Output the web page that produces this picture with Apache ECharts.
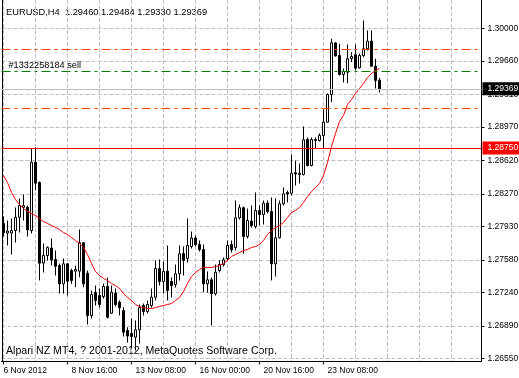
<!DOCTYPE html>
<html><head><meta charset="utf-8">
<script src="https://cdn.jsdelivr.net/npm/echarts@6/dist/echarts.min.js"></script>
<style>html,body{margin:0;padding:0;background:#fff}#c{width:519px;height:378px}</style>
</head><body><div id="c"></div>
<script>
const symbolName = 'EURUSD';
const periodName = 'H4';
const openP = [1.27962,1.27862,1.27862,1.27888,1.28027,1.28129,1.28132,1.27888,1.28602,1.28390,
1.27547,1.27627,1.27705,1.27585,1.27522,1.27331,1.27540,1.27470,1.27463,1.27463,
1.27760,1.27442,1.27000,1.27240,1.27209,1.27198,1.27303,1.27024,1.27233,1.27139,
1.27052,1.26843,1.26812,1.26773,1.26850,1.27104,1.27042,1.27104,1.27191,1.27491,
1.27355,1.27463,1.27355,1.27324,1.27436,1.27648,1.27596,1.27721,1.27810,1.27742,
1.27690,1.27331,1.27373,1.27227,1.27470,1.27530,1.27593,1.27742,1.27711,1.28021,
1.28126,1.27826,1.27986,1.27930,1.28097,1.28056,1.28174,1.28087,1.27540,1.27812,
1.28168,1.28286,1.28278,1.28492,1.28474,1.28474,1.28840,1.28568,1.28829,1.28829,
1.28882,1.29021,1.29310,1.29849,1.29718,1.29519,1.29543,1.29684,1.29725,1.29589,
1.29718,1.29788,1.29868,1.29606,1.29460];
const highP = [1.28035,1.27993,1.28014,1.28129,1.28223,1.28265,1.28150,1.28746,1.28756,1.28401,
1.27752,1.27721,1.27805,1.27679,1.27543,1.27596,1.27547,1.27488,1.27522,1.27899,
1.27766,1.27470,1.27261,1.27313,1.27282,1.27334,1.27397,1.27313,1.27282,1.27157,
1.27087,1.26877,1.26968,1.26947,1.27115,1.27125,1.27157,1.27282,1.27575,1.27585,
1.27564,1.27732,1.27397,1.27533,1.27732,1.27721,1.28014,1.27878,1.27836,1.27784,
1.27742,1.27460,1.27397,1.27533,1.27575,1.27606,1.27784,1.27784,1.28202,1.28160,
1.28139,1.28118,1.28150,1.28286,1.28150,1.28202,1.28202,1.28233,1.28223,1.28202,
1.28338,1.28307,1.28683,1.28620,1.28589,1.28976,1.28861,1.28861,1.28861,1.28903,
1.29153,1.29321,1.29893,1.29857,1.29840,1.29582,1.29833,1.29753,1.29833,1.29739,
1.30084,1.29979,1.29979,1.29684,1.29484];
const lowP = [1.27826,1.27732,1.27637,1.27763,1.27867,1.27993,1.27826,1.27857,1.28307,1.27366,
1.27449,1.27575,1.27522,1.27418,1.27230,1.27230,1.27209,1.27331,1.27296,1.27400,
1.27296,1.26906,1.26968,1.27104,1.27083,1.27177,1.26968,1.27017,1.27094,1.27000,
1.26780,1.26717,1.26655,1.26634,1.26707,1.27000,1.27021,1.27083,1.27157,1.27313,
1.27230,1.27157,1.27188,1.27292,1.27366,1.27418,1.27554,1.27700,1.27721,1.27669,
1.27243,1.27240,1.26895,1.27209,1.27449,1.27512,1.27575,1.27658,1.27679,1.28003,
1.27648,1.27805,1.27920,1.27909,1.27941,1.27951,1.28066,1.27366,1.27407,1.27805,
1.28150,1.28181,1.28254,1.28359,1.28380,1.28463,1.28558,1.28558,1.28746,1.28819,
1.28746,1.29018,1.29230,1.29708,1.29509,1.29436,1.29428,1.29648,1.29561,1.29582,
1.29700,1.29770,1.29603,1.29373,1.29330];
const closeP = [1.27867,1.27883,1.27888,1.28027,1.28150,1.28150,1.27896,1.28602,1.28383,1.27547,
1.27627,1.27711,1.27582,1.27515,1.27331,1.27540,1.27358,1.27366,1.27481,1.27760,
1.27331,1.27000,1.27219,1.27157,1.27115,1.27303,1.26982,1.27243,1.27115,1.27080,
1.26825,1.26785,1.26780,1.26850,1.27083,1.27042,1.27115,1.27191,1.27491,1.27355,
1.27460,1.27261,1.27313,1.27436,1.27645,1.27575,1.27732,1.27810,1.27742,1.27690,
1.27331,1.27373,1.27227,1.27452,1.27533,1.27582,1.27732,1.27687,1.28021,1.28126,
1.27826,1.27993,1.27941,1.28097,1.28056,1.28174,1.28087,1.27540,1.27812,1.28168,
1.28272,1.28270,1.28487,1.28479,1.28487,1.28837,1.28568,1.28840,1.28840,1.28882,
1.29021,1.29310,1.29851,1.29713,1.29519,1.29551,1.29684,1.29708,1.29585,1.29718,
1.29788,1.29868,1.29606,1.29457,1.29369];
const maP = [1.28463,1.28390,1.28286,1.28212,1.28160,1.28118,1.28087,1.28066,1.28045,1.28014,
1.27982,1.27962,1.27941,1.27920,1.27899,1.27867,1.27847,1.27815,1.27784,1.27752,
1.27711,1.27637,1.27543,1.27460,1.27418,1.27387,1.27366,1.27334,1.27313,1.27282,
1.27230,1.27188,1.27157,1.27115,1.27094,1.27083,1.27073,1.27073,1.27083,1.27094,
1.27104,1.27115,1.27125,1.27157,1.27188,1.27251,1.27334,1.27407,1.27449,1.27481,
1.27502,1.27502,1.27502,1.27512,1.27522,1.27543,1.27575,1.27617,1.27637,1.27658,
1.27679,1.27690,1.27711,1.27721,1.27742,1.27784,1.27847,1.27888,1.27920,1.27941,
1.27972,1.28024,1.28077,1.28097,1.28129,1.28181,1.28244,1.28296,1.28338,1.28380,
1.28463,1.28599,1.28767,1.28903,1.29028,1.29091,1.29206,1.29258,1.29321,1.29373,
1.29425,1.29488,1.29530,1.29561,1.29582];
const xTickLabels = ['6 Nov 2012','8 Nov 16:00','13 Nov 08:00','16 Nov 00:00','20 Nov 16:00','23 Nov 08:00'];
const priceTicks = [1.26550,1.26890,1.27240,1.27580,1.27930,1.28270,1.28620,1.28970,1.29310,1.29660,1.30000];
const bidPrice = 1.29369;
const alertLevel = 1.28750;
const orderPrice = 1.29551;
const stopLoss = 1.29781;
const takeProfit = 1.29164;
const orderLabel = '#1332258184 sell';
const footerText = 'Alpari NZ MT4, ? 2001-2012, MetaQuotes Software Corp.';
const totalSlots = 120;
const labelEvery = 16;
const gridEvery = 8;

const months = ['Jan','Feb','Mar','Apr','May','Jun','Jul','Aug','Sep','Oct','Nov','Dec'];
const categories = [];
for (let t = Date.UTC(2012, 10, 6); categories.length < totalSlots; t += 4 * 3600000) {
  const d = new Date(t);
  const wd = d.getUTCDay();
  if (wd === 0 || wd === 6) continue;
  categories.push(d.getUTCDate() + ' ' + months[d.getUTCMonth()] + ' ' + String(d.getUTCHours()).padStart(2, '0') + ':00');
}
const candleData = openP.map((o, i) => [o, closeP[i], lowP[i], highP[i]]);
const last = openP.length - 1;
const titleText = symbolName + ',' + periodName + '  ' +
  [openP[last], highP[last], lowP[last], closeP[last]].map(v => v.toFixed(5)).join(' ');

const FONT = 'Liberation Sans';
const dashDot = [9, 4, 3, 4];
const gridDash = [4, 2];
const showLabelAt = (i) => i % labelEvery === 0 && i / labelEvery < xTickLabels.length;

const chart = echarts.init(document.getElementById('c'), null, {renderer: 'canvas'});
chart.setOption({
  animation: false,
  backgroundColor: '#ffffff',
  grid: {left: 1.5, right: 37.5, top: 0, bottom: 16.5, containLabel: false, outerBoundsMode: 'none'},
  xAxis: {
    type: 'category', data: categories, boundaryGap: true,
    axisLine: {show: true, lineStyle: {color: '#000', width: 1}},
    axisTick: {show: true, alignWithLabel: true, length: 3, interval: showLabelAt, lineStyle: {color: '#000'}},
    axisLabel: {
      show: true, interval: showLabelAt, align: 'left', verticalAlign: 'middle', margin: 9.5,
      color: '#000', fontFamily: FONT, fontSize: 8.5,
      formatter: (v, i) => (i === 0 ? '{f|' : '{n|') + xTickLabels[i / labelEvery] + '}',
      rich: {
        f: {fontFamily: FONT, fontSize: 8.5, color: '#000'},
        n: {fontFamily: FONT, fontSize: 8.5, color: '#000', padding: [0, 0, 0, 4]}
      }
    },
    splitLine: {show: true, interval: (i) => i % gridEvery === 0, alignWithLabel: true,
      lineStyle: {color: '#c0c0c0', type: gridDash, width: 1}}
  },
  yAxis: [{
    type: 'value', position: 'right', min: 1.26519, max: 1.30298,
    axisLine: {show: true, lineStyle: {color: '#000', width: 1}},
    axisTick: {show: true, length: 3, customValues: priceTicks, lineStyle: {color: '#000'}},
    axisLabel: {show: true, customValues: priceTicks, formatter: v => v.toFixed(5), margin: 6,
      color: '#000', fontFamily: FONT, fontSize: 8.5},
    splitLine: {show: true, lineStyle: {color: '#c0c0c0', type: gridDash, width: 1}}
  }, {
    type: 'value', position: 'left', offset: -1, min: 0, max: 1,
    axisLine: {show: true, lineStyle: {color: '#000', width: 1}},
    axisTick: {show: false}, axisLabel: {show: false}, splitLine: {show: false}
  }],
  graphic: [
    {type: 'text', x: 6, y: 12, silent: true,
      style: {text: titleText, fill: '#000', font: '9.3px "Liberation Sans"', verticalAlign: 'middle'}},
    {type: 'text', x: 6, y: 351, silent: true,
      style: {text: footerText, fill: '#000', font: '10.6px "Liberation Sans"', verticalAlign: 'middle'}}
  ],
  series: [{
    type: 'candlestick', data: candleData, barWidth: 2, yAxisIndex: 0,
    itemStyle: {color: '#ffffff', color0: '#000000', borderColor: '#000000', borderColor0: '#000000',
      borderColorDoji: '#000000', borderWidth: 1},
    emphasis: {disabled: true},
    markLine: {
      silent: true, symbol: ['none', 'none'], animation: false, precision: 5,
      data: [
        {yAxis: stopLoss, lineStyle: {color: '#ff4500', type: dashDot, width: 1}, label: {show: false}},
        {yAxis: takeProfit, lineStyle: {color: '#ff4500', type: dashDot, width: 1}, label: {show: false}},
        {yAxis: orderPrice, lineStyle: {color: '#007f00', type: dashDot, width: 1},
          label: {show: true, position: 'insideStartTop', formatter: orderLabel, distance: [7, 1],
            color: '#000', fontFamily: FONT, fontSize: 9.2}},
        {yAxis: alertLevel, lineStyle: {color: '#ff0000', type: 'solid', width: 1},
          label: {show: true, position: 'end', formatter: alertLevel.toFixed(5), distance: 1,
            backgroundColor: '#ff0000', color: '#fff', padding: [2, 6, 2, 5], lineHeight: 9,
            fontFamily: FONT, fontSize: 8.5}},
        {yAxis: bidPrice, lineStyle: {color: '#c0c0c0', type: 'solid', width: 1},
          label: {show: true, position: 'end', formatter: bidPrice.toFixed(5), distance: 1,
            backgroundColor: '#000000', color: '#fff', padding: [2, 6, 2, 5], lineHeight: 9,
            fontFamily: FONT, fontSize: 8.5}}
      ]
    }
  }, {
    type: 'line', data: maP, yAxisIndex: 0, symbol: 'none', z: 3,
    lineStyle: {color: '#ff0000', width: 1}, itemStyle: {color: '#ff0000'},
    emphasis: {disabled: true}
  }]
});
</script></body></html>
